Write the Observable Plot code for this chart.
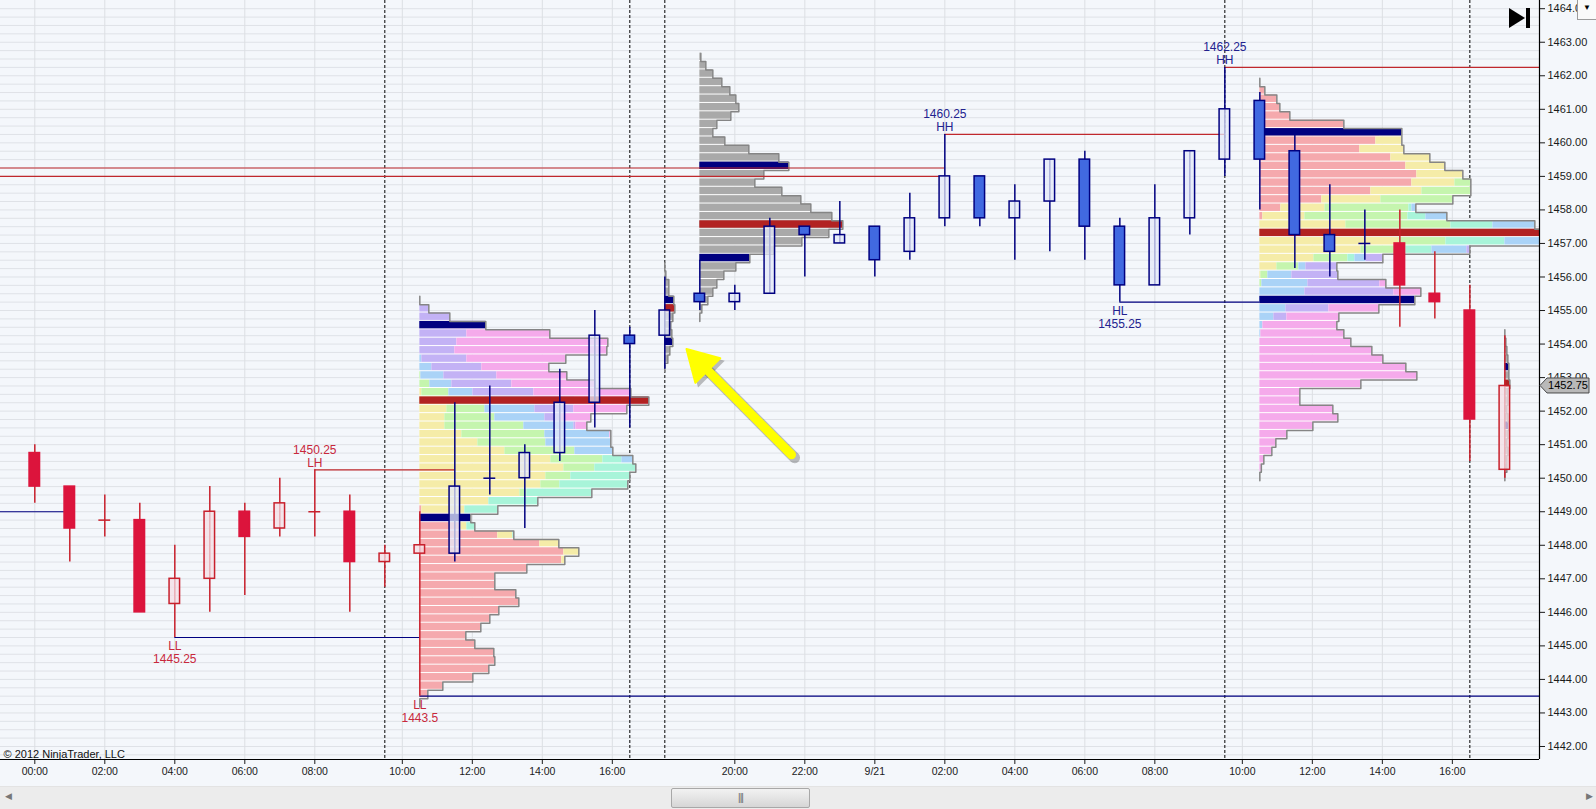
<!DOCTYPE html>
<html>
<head>
<meta charset="utf-8">
<script src="https://cdn.jsdelivr.net/npm/d3@7"></script>
<script src="https://cdn.jsdelivr.net/npm/@observablehq/plot@0.6"></script>
<style>
  html, body { margin: 0; padding: 0; background: #f4f7fb; overflow: hidden; }
  #wrap { position: relative; width: 1596px; height: 809px; font-family: 'Liberation Sans', Arial, sans-serif; }
  #chart svg { display: block; }
  #scroll { position: absolute; left: 0; top: 786px; width: 1596px; height: 23px; background: #ececec; border-top: 1px solid #e3e3e3; box-sizing: border-box; }
  #thumb { position: absolute; left: 671px; top: 1px; width: 139px; height: 20px; box-sizing: border-box; border: 1px solid #a8a8a8; border-radius: 2px; background: linear-gradient(#f2f2f2, #d6d6d6); }
  #thumb span { position: absolute; left: 0; right: 0; top: 3px; text-align: center; font-size: 10px; color: #666; letter-spacing: -1px; }
  .arr { position: absolute; top: 4px; font-size: 9px; color: #777; }
  #dd { position: absolute; left: 1577px; top: 0; width: 19px; height: 20px; box-sizing: border-box; background: #fafafa; border: 1px solid #9c9c9c; border-top: none; border-right: none; font-size: 8px; text-align: center; line-height: 16px; color: #000; }
  #endicon { position: absolute; left: 1508px; top: 8px; }
</style>
</head>
<body>
<div id="wrap">
  <div id="chart"></div>
  <div id="dd">&#9660;</div>
  <svg id="endicon" width="24" height="20"><path d="M1,0 L17,10 L1,20 Z" fill="#000"/><rect x="18" y="0" width="4" height="20" fill="#000"/></svg>
  <div id="scroll">
    <div class="arr" style="left:5px">&#9664;</div>
    <div id="thumb"><span>|||</span></div>
    <div class="arr" style="left:1586px">&#9654;</div>
  </div>
</div>
<script>
// ---------------- DATA ----------------
const barIndex = d3.range(43);
const open  = [1450.75,1449.75,1448.75,1448.75,1446.25,1447,1449,1448.5,1449,1449,1447.5,1447.75,
               1447.75,1450,1450,1450.75,1452.25,1454.25,1454.25,1455.5,1455.25,1455.5,1457.5,1457,
               1457.5,1456.75,1457.75,1459,1457.75,1458.25,1459.5,1457.5,1455.75,1457.75,1459.5,
               1461.25,1459.75,1457.25,1457,1457,1455.5,1455,1450.25];
const high  = [1451,1449.75,1449.5,1449.25,1448,1449.75,1449.25,1450,1450.25,1449.5,1448,1449,
               1452.25,1452.75,1451,1453.25,1455,1454.5,1456,1456.5,1455.75,1457.75,1457.5,1458.25,
               1457.5,1458.5,1460.25,1459,1458.75,1459.5,1459.75,1457.75,1458.75,1459.75,1462.25,
               1461.5,1460.25,1458.75,1458,1458,1456.75,1455.75,1454.25];
const low   = [1449.25,1447.5,1448.25,1446,1445.25,1446,1446.5,1448.25,1448.25,1446,1446.75,1443.5,
               1447.5,1449.5,1448.5,1450.5,1451.5,1451.5,1453.25,1455,1455,1455.5,1456,1457,
               1456,1456.5,1457.5,1457.5,1456.5,1456.75,1456.5,1455.25,1455.75,1457.25,1459,
               1458,1456.25,1456,1456.5,1454.5,1454.75,1450.5,1450];
const close = [1449.75,1448.5,1448.75,1446,1447,1449,1448.25,1449.25,1449,1447.5,1447.75,1448,
               1449.75,1450,1450.75,1452.25,1454.25,1454,1455,1455.25,1455.5,1457.5,1457.25,1457.25,
               1456.5,1457.75,1459,1457.75,1458.25,1459.5,1457.5,1455.75,1457.75,1459.75,1461,
               1459.5,1457.25,1456.75,1457,1455.75,1455.25,1451.75,1452.75];
const trend = ["bear","bear","bear","bear","bear","bear","bear","bear","bear","bear","bear","bear",
               "bull","bull","bull","bull","bull","bull","bull","bull","bull","bull","bull","bull",
               "bull","bull","bull","bull","bull","bull","bull","bull","bull","bull","bull",
               "bull","bull","bull","bull","bear","bear","bear","bear"];

const sessionBreaks = [10, 17, 18, 34, 41];
const xTickPos    = [0, 2, 4, 6, 8, 10.5, 12.5, 14.5, 16.5, 20, 22, 24, 26, 28, 30, 32, 34.5, 36.5, 38.5, 40.5];
const xTickLabels = ["00:00","02:00","04:00","06:00","08:00","10:00","12:00","14:00","16:00","20:00","22:00",
                     "9/21","02:00","04:00","06:00","08:00","10:00","12:00","14:00","16:00"];
const yTicks = d3.range(1442, 1465, 1);
const yGrid  = d3.range(1441.75, 1464.01, 0.25);

// volume profiles: rows from top price down in 0.25 steps; arrays = volume per period
const VOL = 35; // volume units per bar slot
const day1Start = 11, day1Top = 1455.25, day1Poc = 1452.25, day1Vah = 1454.5, day1Val = 1448.75;
const day1Rows = [
  [0],[0,0,0,0,0,9],[0,0,0,0,0,30],[0,0,0,0,0,25,41],[0,0,0,0,0,47,83],[0,0,0,0,0,37,151],
  [0,0,0,0,0,35,152],[0,0,0,0,2,45,99],[0,0,0,0,12,50,67],[0,0,1,0,23,53,70],[0,0,10,0,22,60,83],
  [0,2,27,0,24,61,97],[0,27,38,0,50,40,74],[0,27,38,0,50,39,53],[0,25,50,0,50,15,31],
  [0,25,79,0,50,2,11],[0,42,83,0,65,0,1],[0,58,68,0,65],[0,85,70,0,38],[0,131,52,19,11],
  [0,144,31,41],[0,126,25,59],[0,121,19,68],[0,100,7,65],[0,69,0,49],[2,43,0,33],[30,15,0,6],
  [41,6,0,8],[78,15,0,1],[120,19],[144,15],[142,3],[107],[75],[75],[96],[99],[79],[70],[61],
  [46],[55],[74],[75],[69],[53],[23],[8],[0]
];
const day2Start = 35, day2Top = 1461.75, day2Poc = 1457.25, day2Vah = 1460.25, day2Val = 1455.25;
const day2Rows = [
  [0],[5],[17],[20],[30],[84],[120,22],[116,26],[100,44],[131,39],[146,39],[157,46],[152,43,16],
  [111,51,49],[62,59,72],[21,44,84,3,4],[3,42,103,18,21],[0,86,105,42,42],[0,120,50,60,55],
  [0,139,47,59,37],[0,101,45,26,35,3],[0,54,34,7,11,17],[0,17,22,0,7,31],[0,1,7,0,24,46],
  [0,0,2,0,46,72,6],[0,0,0,0,45,89,27],[0,0,0,0,40,70,45],[0,0,0,0,26,43,50],[0,0,0,0,14,13,52],
  [0,0,0,0,3,0,74],[0,0,0,0,1,0,83],[0,0,0,0,0,0,91],[0,0,0,0,0,0,112],[0,0,0,0,0,0,123],
  [0,0,0,0,0,0,146],[0,0,0,0,0,0,157],[0,0,0,0,0,0,101],[0,0,0,0,0,0,40],[0,0,0,0,0,0,40],
  [0,0,0,0,0,0,73],[0,0,0,0,0,0,78],[0,0,0,0,0,0,53],[0,0,0,0,0,0,27],[0,0,0,0,0,0,16],
  [0,0,0,0,0,0,12],[0,0,0,0,0,0,4],[0,0,0,0,0,0,1.5],[0]
];
const eveStart = 19, eveTop = 1462.5, evePoc = 1457.5, eveVah = 1459.25, eveVal = 1456.5;
const eveRows = [1,6,13,22,30,36,39,31,17,13,25,49,79,89,64,55,82,101,111,132,143,129,102,74,50,36,24,17,13,8,2,0];
const m18Start = 18, m18Top = 1456.25, m18Poc = 1455, m18Vah = 1455.25, m18Val = 1454;
const m18Rows = [0,1,4,4,9,10,8,6,7,8,5,3,0];
const m42Start = 42, m42Top = 1454.25, m42Poc = 1452.75, m42Vah = 1453.25, m42Val = 1451.5;
const m42Rows = [0,1,2,3,4,4,5,3,3,2,3,4,3,2,3,2,2,0];

// swing structure
const swingLines = [
  {from: -1, to: 0.85, price: 1449, kind: "low"},
  {from: 4, to: 11, price: 1445.25, kind: "low"},
  {from: 8, to: 12, price: 1450.25, kind: "high"},
  {from: 11, to: 43, price: 1443.5, kind: "low"},
  {from: 26, to: 34, price: 1460.25, kind: "high"},
  {from: 31, to: 35, price: 1455.25, kind: "low"},
  {from: 34, to: 43, price: 1462.25, kind: "high"},
  {from: -1, to: 26, price: 1459.25, kind: "high"},
  {from: -1, to: 25.85, price: 1459, kind: "high"}
];
const swingLabels = [
  {i: 4, price: 1445.25, tag: "LL", side: "below"},
  {i: 8, price: 1450.25, tag: "LH", side: "above"},
  {i: 11, price: 1443.5, tag: "LL", side: "below"},
  {i: 26, price: 1460.25, tag: "HH", side: "above"},
  {i: 31, price: 1455.25, tag: "HL", side: "below"},
  {i: 34, price: 1462.25, tag: "HH", side: "above"}
];
const arrowNotes = [{x1: 21.62, y1: 1450.7, x2: 18.62, y2: 1453.85}];

// ---------------- STYLE ----------------
const periodFill = ["#f5a9ad","#f5eca8","#c5f5ae","#a8f4d9","#aad3f7","#c3b2f5","#f5aaeb"];
const grayFill = "#a9a9a9", pocFill = "#b22222", vaFill = "#000080";
const bullStroke = "#000080", bullDown = "#4169e1", bullUp = "#e4eaf8";
const bearStroke = "#c8202c", bearDown = "#dc143c", bearUp = "#f4dfe5";
const hiColor = "#c0282d", loColor = "#000080";

function profile(name, start, top, rows, poc, vah, val) {
  const segs = [], rowsOut = [], outline = [];
  rows.forEach((r, k) => {
    const p = top - 0.25 * k;
    const vols = Array.isArray(r) ? r : [r];
    const total = d3.sum(vols);
    const row = {name, p, x1: start, x2: start + total / VOL, y1: p - 0.075, y2: p + 0.175,
                 kind: p === poc ? "poc" : (p === vah || p === val) ? "va" : null};
    rowsOut.push(row);
    let c = 0;
    vols.forEach((v, j) => {
      if (v > 0) segs.push({x1: start + c / VOL, x2: start + (c + v) / VOL, y1: row.y1, y2: row.y2,
                            period: Array.isArray(r) ? j : -1});
      c += v;
    });
    outline.push({name, x: row.x2, y: row.y2}, {name, x: row.x2, y: row.y1});
  });
  return {segs, rowsOut, outline};
}
const profs = [
  profile("d1", day1Start, day1Top, day1Rows, day1Poc, day1Vah, day1Val),
  profile("d2", day2Start, day2Top, day2Rows, day2Poc, day2Vah, day2Val),
  profile("eve", eveStart, eveTop, eveRows, evePoc, eveVah, eveVal),
  profile("m18", m18Start, m18Top, m18Rows, m18Poc, m18Vah, m18Val),
  profile("m42", m42Start, m42Top, m42Rows, m42Poc, m42Vah, m42Val)
];
const allSegs = profs.flatMap(p => p.segs);
const allRows = profs.flatMap(p => p.rowsOut);
const allOutline = profs.flatMap(p => p.outline);

const isBull = i => trend[i] === "bull";
const strokeOf = i => isBull(i) ? bullStroke : bearStroke;
const bodies = barIndex.filter(i => open[i] !== close[i]);
const upBodies = bodies.filter(i => close[i] > open[i]);
const downBodies = bodies.filter(i => close[i] < open[i]);
const dojis = barIndex.filter(i => open[i] === close[i]);
const bodyW = 0.15;

// plot geometry
const W = 1596, H = 786, mR = 57, mB = 27;
const xDomain = [-0.98, 42.99], yDomain = [1441.612, 1464.2445];
const pxPerX = (W - mR) / (xDomain[1] - xDomain[0]);
const pxPerY = (H - mB) / (yDomain[1] - yDomain[0]);

// arrow: shaft (link) + filled triangular head (rotated dot)
const headR = 13;
const arrowParts = arrowNotes.map(a => {
  const vx = (a.x2 - a.x1) * pxPerX, vy = -(a.y2 - a.y1) * pxPerY;
  const len = Math.hypot(vx, vy);
  const ux = vx / len, uy = vy / len;
  const back = headR * 1.55; // distance from tip to triangle centroid
  const f = (len - back) / len;
  return {
    ...a,
    sx2: a.x1 + (a.x2 - a.x1) * f, sy2: a.y1 + (a.y2 - a.y1) * f,
    rot: Math.atan2(ux, -uy) * 180 / Math.PI,
    hdx: -ux * back, hdy: -uy * back
  };
});
const ap = arrowParts[0];

const font = "'Liberation Sans', Arial, sans-serif";

const chart = Plot.plot({
  width: W, height: H,
  marginTop: 0, marginRight: mR, marginBottom: mB, marginLeft: 0,
  style: {background: "#f4f7fb", fontFamily: font, overflow: "visible"},
  color: {type: "identity"},
  x: {domain: xDomain, axis: null},
  y: {domain: yDomain, axis: null},
  marks: [
    Plot.gridY({ticks: yGrid, stroke: "#dfe2e7", strokeOpacity: 1}),
    Plot.gridX({ticks: xTickPos, stroke: "#dcdfe3", strokeOpacity: 1}),
    Plot.ruleX(sessionBreaks, {x: d => d, stroke: "#000", strokeWidth: 1, strokeDasharray: "3,2"}),
    // profiles
    Plot.rect(allRows.filter(r => r.x2 > r.x1), {x1: "x1", x2: "x2", y1: "y1", y2: "y2", fill: "#ffffff", clip: true}),
    Plot.rect(allSegs, {x1: "x1", x2: "x2", y1: "y1", y2: "y2", insetBottom: 1, clip: true,
      fill: d => d.period < 0 ? grayFill : periodFill[d.period]}),
    Plot.rect(allRows.filter(r => r.kind && r.x2 > r.x1), {x1: "x1", x2: "x2", y1: "y1", y2: "y2", insetBottom: 1, clip: true,
      fill: d => d.kind === "poc" ? pocFill : vaFill}),
    Plot.line(allOutline, {x: "x", y: "y", z: "name", stroke: "#858585", strokeWidth: 1.5, clip: true}),
    // swing lines
    Plot.ruleY(swingLines, {y: "price", x1: "from", x2: "to", strokeWidth: 1.2,
      stroke: d => d.kind === "high" ? hiColor : loColor}),
    // candles
    Plot.ruleX(barIndex, {x: d => d, y1: i => low[i], y2: i => high[i], stroke: strokeOf, strokeWidth: 1.5}),
    Plot.rect(upBodies, {x1: i => i - bodyW, x2: i => i + bodyW, y1: i => open[i], y2: i => close[i],
      fill: i => isBull(i) ? bullUp : bearUp, fillOpacity: 0.75, stroke: strokeOf, strokeWidth: 1.5}),
    Plot.rect(downBodies, {x1: i => i - bodyW, x2: i => i + bodyW, y1: i => close[i], y2: i => open[i],
      fill: i => isBull(i) ? bullDown : bearDown, stroke: i => isBull(i) ? bullStroke : bearDown, strokeWidth: 1.5}),
    Plot.ruleY(dojis, {y: i => open[i], x1: i => i - 0.17, x2: i => i + 0.17, stroke: strokeOf, strokeWidth: 1.5}),
    // swing labels
    Plot.text(swingLabels.filter(d => d.side === "above"), {x: "i", y: "price", text: d => `${d.price}\n${d.tag}`,
      lineAnchor: "bottom", dy: -3, fontSize: 12, lineHeight: 1.1,
      fill: d => d.tag[0] === "H" ? "#22228f" : "#c8283c"}),
    Plot.text(swingLabels.filter(d => d.side === "below"), {x: "i", y: "price", text: d => `${d.tag}\n${d.price}`,
      lineAnchor: "top", dy: 3, fontSize: 12, lineHeight: 1.1,
      fill: d => d.tag[0] === "H" ? "#22228f" : "#c8283c"}),
    // arrow annotation: shadow then yellow
    Plot.link(arrowParts, {x1: "x1", y1: "y1", x2: "sx2", y2: "sy2", stroke: "#303030", strokeOpacity: 0.3,
      strokeWidth: 11, strokeLinecap: "round", dx: 3, dy: 3}),
    Plot.dot(arrowParts, {x: "x2", y: "y2", symbol: "triangle", r: headR + 1, rotate: ap.rot,
      dx: ap.hdx + 3, dy: ap.hdy + 3, fill: "#303030", fillOpacity: 0.3, stroke: "none"}),
    Plot.link(arrowParts, {x1: "x1", y1: "y1", x2: "sx2", y2: "sy2", stroke: "#ffff00",
      strokeWidth: 9, strokeLinecap: "round"}),
    Plot.dot(arrowParts, {x: "x2", y: "y2", symbol: "triangle", r: headR, rotate: ap.rot,
      dx: ap.hdx, dy: ap.hdy, fill: "#ffff00", stroke: "#ffff00", strokeWidth: 2, strokeLinejoin: "round"}),
    // axes
    Plot.axisY({ticks: yTicks, anchor: "right", tickSize: 5, tickPadding: 3, tickFormat: d => d.toFixed(2),
      fontSize: 11, label: null, color: "#1a1a1a"}),
    Plot.axisX({ticks: xTickPos, anchor: "bottom", tickSize: 5, tickPadding: 3,
      tickFormat: d => xTickLabels[xTickPos.indexOf(d)], fontSize: 10.5, label: null, color: "#1a1a1a"}),
    Plot.ruleX([xDomain[1]], {stroke: "#000", strokeWidth: 1.2}),
    Plot.ruleY([yDomain[0]], {stroke: "#000", strokeWidth: 1.2}),
    Plot.text(["© 2012 NinjaTrader, LLC"], {frameAnchor: "bottom-left", textAnchor: "start", lineAnchor: "bottom",
      dx: 3, dy: -2, fontSize: 11, fill: "#111"})
  ]
});
document.getElementById("chart").appendChild(chart);

// current price marker on the price axis
const sy = chart.scale("y"), sx = chart.scale("x");
const last = close[close.length - 1];
const yp = sy.apply(last), xa = sx.apply(xDomain[1]);
const g = d3.select(chart).append("g");
g.append("path")
  .attr("d", `M${xa + 1},${yp} L${xa + 8},${yp - 7.5} L${xa + 50},${yp - 7.5} L${xa + 50},${yp + 7.5} L${xa + 8},${yp + 7.5} Z`)
  .attr("fill", "#b9b9b9").attr("stroke", "#4a4a4a").attr("stroke-width", 1);
g.append("text").attr("x", xa + 29).attr("y", yp).attr("dy", "0.36em").attr("text-anchor", "middle")
  .attr("font-size", 11).attr("font-family", font).attr("fill", "#000").text(last.toFixed(2));
</script>
</body>
</html>
